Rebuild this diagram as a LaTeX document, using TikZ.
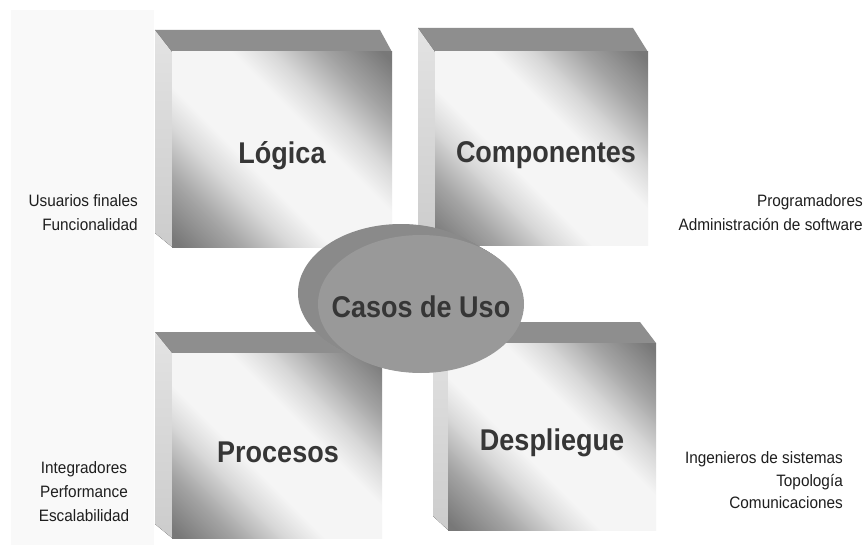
\documentclass[tikz,border=0pt]{standalone}
\usepackage{fontspec}
\setmainfont{Liberation Sans}
\newfontfamily\labfont{Liberation Sans}[FakeStretch=0.93]
\newfontfamily\titfont{Liberation Sans}[FakeStretch=0.9]
\definecolor{topgray}{HTML}{8E8E8E}
\definecolor{cdark}{HTML}{787878}
\definecolor{cdm}{HTML}{A4A4A4}
\definecolor{cmid}{HTML}{D8D8D8}
\definecolor{clight}{HTML}{F5F5F5}
\definecolor{ellside}{HTML}{8A8A8A}
\definecolor{ellface}{HTML}{999999}
\definecolor{titcol}{HTML}{363636}
\definecolor{labcol}{HTML}{1E1E1E}
\pgfdeclareverticalshading{facesh}{100bp}{color(0bp)=(cdark); color(16bp)=(cdark); color(26bp)=(cdm); color(35bp)=(cmid); color(42bp)=(clight); color(58bp)=(clight); color(65bp)=(cmid); color(74bp)=(cdm); color(84bp)=(cdark); color(100bp)=(cdark)}
\pgfdeclareverticalshading{leftsh}{100bp}{color(0bp)=(black!20); color(25bp)=(black!20); color(75bp)=(black!11); color(100bp)=(black!11)}
\tikzset{
  title/.style={font=\titfont\bfseries\fontsize{30}{34}\selectfont, text=titcol, inner sep=0pt},
  lab/.style={font=\labfont\fontsize{16.5}{20}\selectfont, text=labcol, inner sep=0pt},
  topface/.style={fill=topgray},
  leftface/.style={shading=leftsh},
  frontface/.style={shading=facesh, shading angle=-45}
}
% #1 front left x, #2 front top y, #3 front right x, #4 front bottom y,
% #5 back left x, #6 back top y, #7 back right x
\newcommand\mycube[7]{%
  \fill[topface] (#5,#6) -- (#7,#6) -- (#3,#2) -- (#1,#2) -- cycle;
  \fill[leftface] (#5,#6) -- (#1,#2) -- (#1,#4) -- (#5,{#4-14}) -- cycle;
  \fill[frontface] (#1,#2) rectangle (#3,#4);
}
\begin{document}
\begin{tikzpicture}[x=1pt,y=-1pt]
\useasboundingbox (0,0) rectangle (867,556);
\fill[white] (0,0) rectangle (867,556);
\fill[black!2.5] (11,10) rectangle (154,545);

% cubes
\mycube{172}{52}{392}{247}{155}{30}{380}
\mycube{435}{52}{648}{245}{418}{28}{633}
\mycube{172}{353}{382}{538}{155}{332}{370}
\mycube{448}{343}{656}{530}{433}{322}{640}

\node[title, anchor=base] (logica) at (282,164) {Lógica};
\node[title, anchor=base] (comp) at (546,163) {Componentes};
\node[title, anchor=base] (proc) at (278,462) {Procesos};
\node[title, anchor=base] (desp) at (552,450) {Despliegue};

% central disc
\foreach \t in {0,0.05,...,1.0}
  \fill[ellside] ({401+20*\t},{293+11*\t}) ellipse [x radius=103, y radius=69];
\fill[ellface] (421,304) ellipse [x radius=103, y radius=69];
\node[title, anchor=base] (casos) at (421,317) {Casos de Uso};

% side labels
\node[lab, anchor=base east] (l1a) at (138,207) {Usuarios finales};
\node[lab, anchor=base east] (l1b) at (138,230) {Funcionalidad};
\node[lab, anchor=base east] (r1a) at (863,207) {Programadores};
\node[lab, anchor=base east] (r1b) at (863,230) {Administración de software};
\node[lab, anchor=base] (l2a) at (84,473) {Integradores};
\node[lab, anchor=base] (l2b) at (84,497) {Performance};
\node[lab, anchor=base] (l2c) at (84,521) {Escalabilidad};
\node[lab, anchor=base east] (r2a) at (843,463) {Ingenieros de sistemas};
\node[lab, anchor=base east] (r2b) at (843,486) {Topología};
\node[lab, anchor=base east] (r2c) at (843,508) {Comunicaciones};
\end{tikzpicture}
\end{document}
